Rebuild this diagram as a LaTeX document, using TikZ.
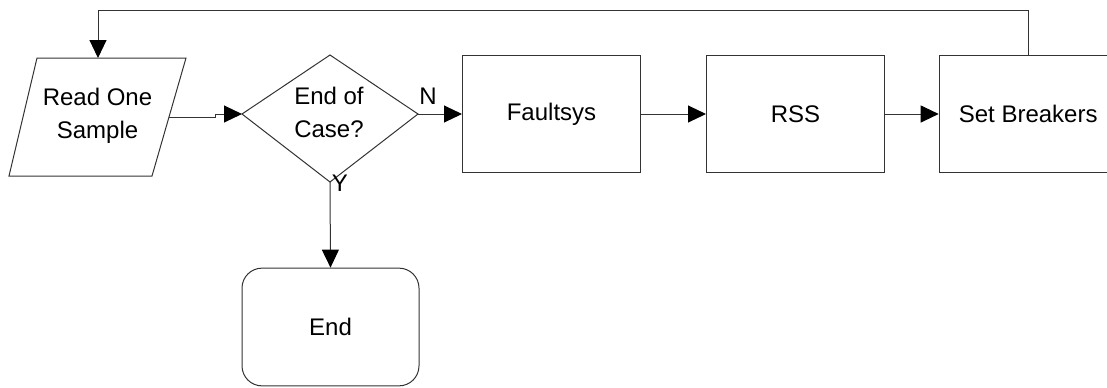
\documentclass[tikz,border=0pt]{standalone}
\usepackage{fontspec}
\setmainfont{Liberation Sans}
\usetikzlibrary{arrows.meta}
\begin{document}
\begin{tikzpicture}[x=0.75pt,y=-0.75pt,
  line width=0.75pt, draw=black!80,
  lbl/.style={font=\fontsize{18}{24.75}\selectfont, align=center, inner sep=0pt},
  box/.style={draw=black!80, line width=0.75pt, minimum width=133.5pt, minimum height=88.3pt, inner sep=0pt, font=\fontsize{18}{24.75}\selectfont},
  arr/.style={draw=black!80, -{Triangle[length=13.5pt,width=12.75pt,fill=black,color=black]}}]
\clip (0,0) rectangle (1107,387);
\useasboundingbox (0,0) rectangle (1107,387);
% parallelogram
\coordinate (ptl) at (37,58);
\coordinate (ptr) at (186,58);
\coordinate (pbr) at (152,176);
\coordinate (pbl) at (9,176);
\coordinate (ptop) at (98,58);
\coordinate (pright) at (169,117);
\draw (ptl) -- (ptr) -- (pbr) -- (pbl) -- cycle;
\node[lbl] (read) at (97.5,116) {Read One\\Sample};
% diamond
\coordinate (dl) at (242,114);
\coordinate (dt) at (330,55);
\coordinate (dr) at (418,114);
\coordinate (db) at (330,182);
\draw (dl) -- (dt) -- (dr) -- (db) -- cycle;
\node[lbl] (dec) at (329,112) {End of\\Case?};
% boxes
\node[box] (fault) at (551.5,114) {Faultsys};
\node[box] (rss) at (795.5,114) {RSS};
\node[box] (brk) at (1028.2,114) {Set Breakers};
\node[box, rounded corners=15pt, minimum width=132.75pt] (end) at (330.5,327) {End};
% labels
\node[lbl] (nl) at (428,96) {N};
\node[lbl] (yl) at (340,183) {Y};
% connectors
\coordinate (j1) at (215,117);
\coordinate (j2) at (215,114);
\draw[arr] (pright) -- (j1) -- (j2) -- (dl);
\draw[arr] (dr) -- (fault.west);
\draw[arr] (fault.east) -- (rss.west);
\draw[arr] (rss.east) -- (brk.west);
\coordinate (topy) at (0,10.7);
\draw[arr] (brk.north) |- (topy -| ptop) -- (ptop);
\draw[arr] (db) -- (end.north);
\end{tikzpicture}
\end{document}
